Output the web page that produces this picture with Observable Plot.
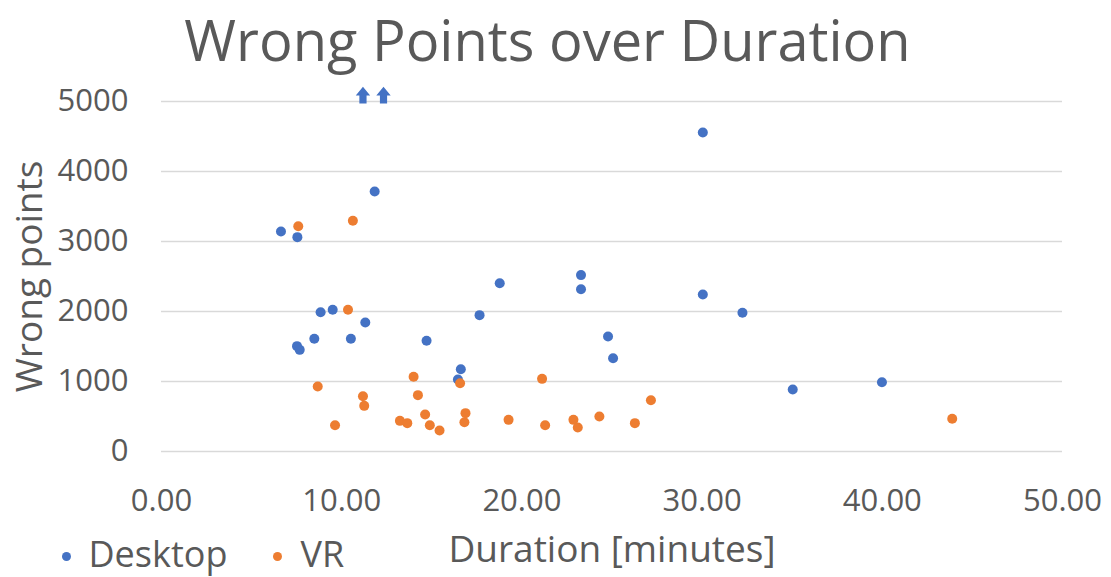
<!DOCTYPE html>
<html>
<head>
<meta charset="utf-8">
<script src="https://cdn.jsdelivr.net/npm/d3@7"></script>
<script src="https://cdn.jsdelivr.net/npm/@observablehq/plot@0.6"></script>
<style>
  html, body { margin: 0; padding: 0; background: #fff; }
  #wrap { width: 1111px; font-family: "Open Sans", sans-serif; color: #595959; }
  #title { width: 1095px; height: 78px; text-align: center; font-size: 56px; line-height: 78px; white-space: nowrap; margin: 0; font-weight: normal; }
  #chart svg { display: block; }
</style>
</head>
<body>
<div id="wrap">
  <h1 id="title">Wrong Points over Duration</h1>
  <div id="chart"></div>
</div>
<script>
// ---- data ----
const seriesNames = ["Desktop", "VR"];
const seriesColors = ["#4472C4", "#ED7D31"];

const desktopDuration = [6.63, 7.54, 11.83, 30.04, 18.77, 23.28, 23.28, 30.04, 32.24, 8.83, 9.50, 11.31, 17.65, 24.78, 8.48, 10.51, 7.52, 7.67, 14.71, 25.06, 16.61, 16.45, 35.03, 39.98];
const desktopWrong    = [3143, 3062, 3714, 4557, 2404, 2520, 2319, 2243, 1981, 1990, 2024, 1843, 1948, 1643, 1610, 1610, 1505, 1452, 1581, 1333, 1176, 1029, 886, 990];

const vrDuration = [7.59, 10.62, 10.35, 13.99, 16.57, 21.12, 8.67, 11.18, 14.23, 11.25, 27.16, 9.63, 13.23, 13.64, 14.63, 14.89, 15.43, 16.87, 16.81, 19.26, 21.29, 22.86, 23.10, 24.30, 26.27, 43.88];
const vrWrong    = [3219, 3296, 2024, 1067, 976, 1038, 929, 790, 805, 652, 733, 376, 438, 405, 529, 376, 300, 548, 419, 452, 376, 452, 343, 500, 405, 467];

// Desktop runs whose wrong points exceed the axis (drawn as arrows at the top)
const desktopOffscaleDuration = [11.18, 12.32];

const xTicks = [0, 10, 20, 30, 40, 50];
const yTicks = [0, 1000, 2000, 3000, 4000, 5000];
const xLabel = "Duration [minutes]";
const yLabel = "Wrong points";

// ---- table ----
const points = [
  ...desktopDuration.map((d, i) => ({series: "Desktop", duration: d, wrong: desktopWrong[i]})),
  ...vrDuration.map((d, i) => ({series: "VR", duration: d, wrong: vrWrong[i]}))
];

// block-arrow symbol
const arrowSymbol = {
  draw(ctx, size) {
    const r = Math.sqrt(size / Math.PI);
    const h = r * 1.1, w = r * 0.9, sw = r * 0.45, sl = r;
    ctx.moveTo(0, -h);
    ctx.lineTo(w, 0);
    ctx.lineTo(sw, 0);
    ctx.lineTo(sw, sl);
    ctx.lineTo(-sw, sl);
    ctx.lineTo(-sw, 0);
    ctx.lineTo(-w, 0);
    ctx.closePath();
  }
};

const marginLeft = 161;
// legend layout (pixel offsets from the frame's bottom-left corner)
const legendDotDx = [66 - marginLeft, 277 - marginLeft];
const legendTextDx = [88 - marginLeft, 300 - marginLeft];

const legendMarks = seriesNames.flatMap((name, i) => [
  Plot.dot([name], {frameAnchor: "bottom-left", dx: legendDotDx[i], dy: 105, r: 4.5, fill: seriesColors[i]}),
  Plot.text([name], {frameAnchor: "bottom-left", dx: legendTextDx[i], dy: 103.5, fontSize: 36, fill: "#595959", textAnchor: "start", lineAnchor: "middle"})
]);

const chart = Plot.plot({
  width: 1111,
  height: 499,
  marginLeft: marginLeft,
  marginRight: 49,
  marginTop: 23,
  marginBottom: 126,
  x: {domain: [0, 50]},
  y: {domain: [0, 5000]},
  color: {domain: seriesNames, range: seriesColors},
  style: {fontFamily: "'Open Sans', sans-serif", color: "#595959", background: "white", overflow: "visible"},
  marks: [
    Plot.gridY(yTicks, {stroke: "#d9d9d9", strokeOpacity: 1, strokeWidth: 1.3}),
    Plot.axisY(yTicks, {tickSize: 0, tickPadding: 33, fontSize: 31, tickFormat: d3.format("d"), label: null}),
    Plot.axisX(xTicks, {tickSize: 0, tickPadding: 37, fontSize: 31, tickFormat: d3.format(".2f"), label: null}),
    Plot.text([yLabel], {frameAnchor: "left", dx: -131, rotate: -90, fontSize: 37, fill: "#595959", textAnchor: "middle", lineAnchor: "middle"}),
    Plot.text([xLabel], {frameAnchor: "bottom", dy: 99, fontSize: 37, fill: "#595959", textAnchor: "middle", lineAnchor: "middle"}),
    Plot.dot(points, {x: "duration", y: "wrong", fill: "series", r: 5}),
    Plot.dot(desktopOffscaleDuration, {x: d => d, frameAnchor: "top", dy: -6, symbol: arrowSymbol, r: 8, fill: seriesColors[0]}),
    ...legendMarks
  ]
});
document.getElementById("chart").appendChild(chart);
</script>
</body>
</html>
